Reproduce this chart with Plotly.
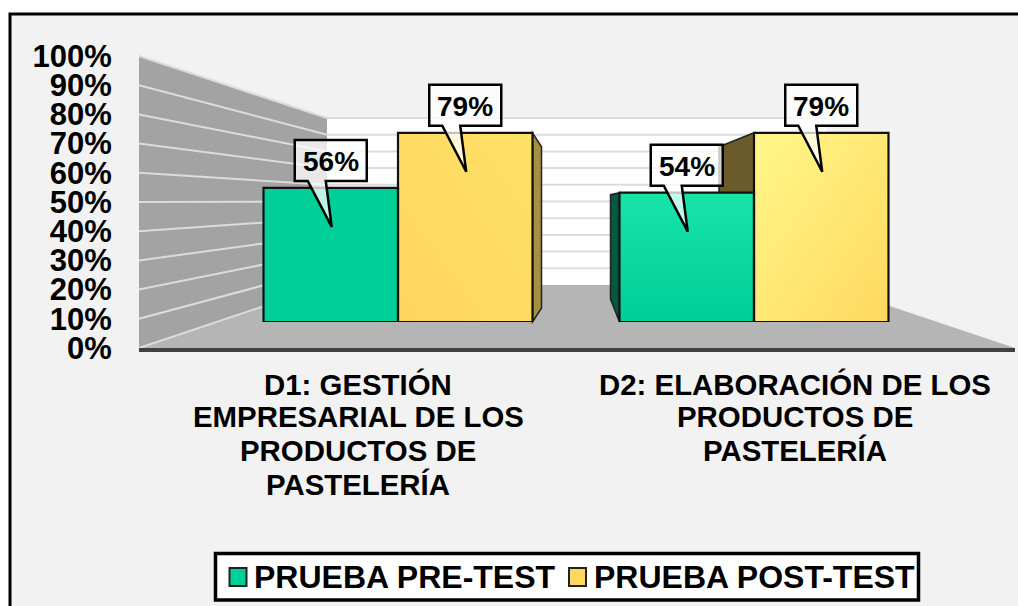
import plotly.graph_objects as go

CATEGORY_LINES = [
    ["D1: GESTIÓN", "EMPRESARIAL DE LOS", "PRODUCTOS DE", "PASTELERÍA"],
    ["D2: ELABORACIÓN DE LOS", "PRODUCTOS DE", "PASTELERÍA"],
]
SERIES_NAMES = ["PRUEBA PRE-TEST", "PRUEBA POST-TEST"]
PRE_VALUES = [56, 54]
POST_VALUES = [79, 79]
Y_TICKS = list(range(0, 101, 10))

W, H = 1018, 606
FONT = "Liberation Sans, Arial, sans-serif"
PRE_COLOR = "#00cf97"
POST_COLOR = "#ffd862"

# frame geometry in pixels
FRONT_L, FRONT_R, FRONT_B, FRONT_T = 139, 1015, 348, 56
BACK_L, BACK_R, BACK_B, BACK_T = 327, 827, 285, 118
BAR_B, BAR_T = 322, 82.5
CAT0_PX, CAT_STEP = 398, 356
BAR_W = 134.5


def fx(x):
    return x / W


def fy(y):
    return 1 - y / H


def poly(points, fill, line=None, width=0, layer="below"):
    path = "M" + " L".join(f"{fx(x):.5f},{fy(y):.5f}" for x, y in points) + " Z"
    return dict(type="path", xref="paper", yref="paper", path=path, fillcolor=fill,
                line=dict(color=line or "rgba(0,0,0,0)", width=width), layer=layer)


def seg(p, q, color, width, layer="below"):
    return dict(type="line", xref="paper", yref="paper", x0=fx(p[0]), y0=fy(p[1]),
                x1=fx(q[0]), y1=fy(q[1]), line=dict(color=color, width=width), layer=layer)


def box(x0, y0, x1, y1, fill, line, width, layer="above"):
    return dict(type="rect", xref="paper", yref="paper", x0=fx(x0), y0=fy(y0), x1=fx(x1), y1=fy(y1),
                fillcolor=fill, line=dict(color=line, width=width), layer=layer)


def val_px(v):
    return BAR_B - (BAR_B - BAR_T) * v / 100


shapes = [
    dict(type="rect", xref="paper", yref="paper", x0=fx(10), y0=fy(14), x1=1.1, y1=-0.1,
         fillcolor="#f2f2f2", line=dict(color="black", width=3), layer="below"),
    poly([(FRONT_L, FRONT_T), (BACK_L, BACK_T), (BACK_L, BACK_B), (FRONT_L, FRONT_B)], "#a3a3a3"),
    poly([(BACK_L, BACK_T), (BACK_R, BACK_T), (BACK_R, BACK_B), (BACK_L, BACK_B)], "#ffffff"),
    poly([(FRONT_L, FRONT_B), (BACK_L, BACK_B), (BACK_R, BACK_B), (FRONT_R, FRONT_B)], "#b5b5b5"),
]
for t in Y_TICKS:
    yf = FRONT_B - (FRONT_B - FRONT_T) * t / 100
    yb = BACK_B - (BACK_B - BACK_T) * t / 100
    shapes.append(seg((FRONT_L, yf), (BACK_L, yb), "#dcdcdc", 2))
    if t > 0:
        shapes.append(seg((BACK_L, yb), (BACK_R, yb), "#dcdcdc", 2))

# visible side faces of the 3-D columns
post_d1_right = CAT0_PX + BAR_W
post_top = val_px(POST_VALUES[0])
shapes.append(poly([(post_d1_right, post_top), (post_d1_right + 9, post_top + 14),
                    (post_d1_right + 9, BAR_B - 14), (post_d1_right, BAR_B)],
                   "#a68e42", "#222222", 1.5))
pre_d2_left = CAT0_PX + CAT_STEP - BAR_W
pre_top = val_px(PRE_VALUES[1])
shapes.append(poly([(pre_d2_left, pre_top), (pre_d2_left - 9, pre_top + 2),
                    (pre_d2_left - 9, BAR_B - 23), (pre_d2_left, BAR_B)],
                   "#005a40", "#222222", 1.5))
mid_d2 = CAT0_PX + CAT_STEP
post2_top = val_px(POST_VALUES[1])
shapes.append(poly([(mid_d2, post2_top), (mid_d2 - 35, post2_top + 14),
                    (mid_d2 - 35, pre_top), (mid_d2, pre_top)], "#6b5a2a", "#222222", 1.5))

BAR_UNITS = BAR_W / CAT_STEP
annotations = []
# value callouts anchored to the top of each column
for values, off in ((PRE_VALUES, -0.5), (POST_VALUES, 0.5)):
    for i, v in enumerate(values):
        cx = i + off * BAR_UNITS
        shapes.append(dict(
            type="path", xref="x2", yref="y2", xsizemode="pixel", ysizemode="pixel",
            xanchor=cx, yanchor=v, layer="above",
            path="M-36,48 L36,48 L36,7 L-5,7 L1,-39 L-23,7 L-36,7 Z",
            fillcolor="rgba(255,255,255,0.75)", line=dict(color="black", width=2.5)))
        annotations.append(dict(
            xref="x2", yref="y2", x=cx, y=v, yshift=26, showarrow=False, text=f"{v}%",
            font=dict(family=FONT, size=28, color="black", weight="bold")))

# category labels, line by line to keep the tight leading
LINE_Y = [384, 416, 450, 484]
LABEL_SHIFT = [0, -1.5]
for i, lines in enumerate(CATEGORY_LINES):
    for ln, text in enumerate(lines):
        annotations.append(dict(
            xref="x", yref="paper", x=i, y=fy(LINE_Y[ln]), yanchor="middle", showarrow=False,
            xshift=LABEL_SHIFT[i],
            text=text, font=dict(family=FONT, size=29.4, color="black", weight="bold")))

# legend panel
shapes.append(box(215.5, 553.5, 918.5, 600, "white", "black", 3.5))
for sx, name, color in ((229.5, SERIES_NAMES[0], PRE_COLOR), (569, SERIES_NAMES[1], POST_COLOR)):
    shapes.append(box(sx, 568, sx + 17, 586, color, "#222222", 2))
    annotations.append(dict(
        xref="paper", yref="paper", x=fx(sx + 22.5), y=fy(577), xanchor="left", yanchor="middle",
        showarrow=False, text=name, font=dict(family=FONT, size=32, color="black", weight="bold")))


def gradient(i, offset, value, low, high, direction):
    """Column fill fading from `low` to `high`; direction is the brighter corner."""
    n = 12
    x0 = i + offset * BAR_UNITS
    xs = [x0 + BAR_UNITS * k / n for k in range(n + 1)]
    ys = [value * k / n for k in range(n + 1)]
    m = n - 1
    if direction == "top":
        z = [[r / m for _ in range(n)] for r in range(n)]
    elif direction == "top-left":
        z = [[((m - c) + r) / (2 * m) for c in range(n)] for r in range(n)]
    else:  # top-right
        z = [[(c + r) / (2 * m) for c in range(n)] for r in range(n)]
    return go.Heatmap(x=xs, y=ys, z=z, xaxis="x2", yaxis="y2", zmin=0, zmax=1, zsmooth="best",
                      colorscale=[[0, low], [1, high]], showscale=False, hoverinfo="skip")


fig = go.Figure()
fig.add_trace(go.Scatter(x=[0, 1], y=[None, None], xaxis="x", yaxis="y", showlegend=False,
                         hoverinfo="skip"))
fig.add_trace(gradient(1, -1, PRE_VALUES[1], "#00cf97", "#17e3a9", "top"))
fig.add_trace(gradient(1, 0, POST_VALUES[1], "#ffd962", "#fff687", "top-left"))
fig.add_trace(gradient(0, 0, POST_VALUES[0], "#ffd55f", "#ffe066", "top-right"))

idx = list(range(len(PRE_VALUES)))
labels = [" ".join(l) for l in CATEGORY_LINES]
fig.add_trace(go.Bar(x=idx, y=PRE_VALUES, name=SERIES_NAMES[0], xaxis="x2", yaxis="y2", hovertext=labels,
                     showlegend=False,
                     marker=dict(color=[PRE_COLOR, "rgba(0,0,0,0)"], line=dict(color="#111111", width=2.2))))
fig.add_trace(go.Bar(x=idx, y=POST_VALUES, name=SERIES_NAMES[1], xaxis="x2", yaxis="y2", hovertext=labels,
                     showlegend=False,
                     marker=dict(color="rgba(0,0,0,0)", line=dict(color="#111111", width=2.2))))

x2_lo = -(CAT0_PX - FRONT_L) / CAT_STEP
x2_hi = (FRONT_R - CAT0_PX) / CAT_STEP
fig.update_layout(
    width=W, height=H, margin=dict(l=0, r=0, t=0, b=0, autoexpand=False),
    paper_bgcolor="white", plot_bgcolor="rgba(0,0,0,0)",
    barmode="group", bargap=1 - 2 * BAR_UNITS, bargroupgap=0,
    font=dict(family=FONT, color="black"), showlegend=False,
    shapes=shapes, annotations=annotations,
    xaxis=dict(domain=[fx(FRONT_L), fx(FRONT_R)], range=[-0.5, 1.5], showgrid=False, zeroline=False,
               showticklabels=False, ticks="", showline=True, linecolor="#404040", linewidth=3.5,
               anchor="y", fixedrange=True),
    yaxis=dict(domain=[fy(FRONT_B), fy(FRONT_T)], range=[0, 100], tickmode="array", tickvals=Y_TICKS,
               ticktext=[f"{t}%" for t in Y_TICKS],
               showgrid=False, zeroline=False, showline=False, ticks="outside", ticklen=20,
               tickcolor="rgba(0,0,0,0)", anchor="x", fixedrange=True,
               tickfont=dict(family=FONT, size=31, color="black", weight="bold")),
    xaxis2=dict(domain=[fx(FRONT_L), fx(FRONT_R)], range=[x2_lo, x2_hi], visible=False, anchor="y2",
                fixedrange=True),
    yaxis2=dict(domain=[fy(BAR_B), fy(BAR_T)], range=[0, 100], visible=False, anchor="x2",
                fixedrange=True),
)

fig.write_html("out.html", config={"displayModeBar": False},
               post_script="document.body.style.margin='0';document.body.style.overflow='hidden';")
